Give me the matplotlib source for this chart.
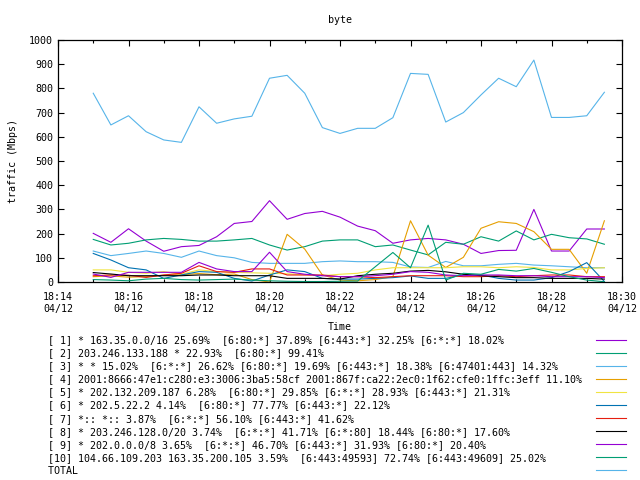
import pandas as pd
import matplotlib
matplotlib.use('Agg')
import matplotlib.pyplot as plt
from matplotlib.dates import DateFormatter, MinuteLocator
from matplotlib.lines import Line2D

# %% data (Mbps, one sample every 30 s from 18:15:00)
start = '2024-04-12 18:15:00'
n_points = 30

s1 = [201, 164, 220, 169, 127, 146, 151, 187, 242, 250, 336, 259, 283, 292, 268,
      231, 212, 160, 174, 180, 174, 156, 118, 130, 131, 300, 128, 128, 219, 219]
s2 = [176, 153, 160, 174, 180, 176, 169, 169, 174, 180, 153, 132, 146, 169, 174,
      174, 146, 153, 132, 112, 164, 156, 187, 169, 211, 174, 197, 183, 178, 156]
s3 = [128, 109, 118, 128, 118, 102, 128, 109, 100, 81, 77, 77, 77, 84, 87,
      84, 84, 81, 62, 60, 85, 67, 67, 73, 77, 70, 67, 63, 59, 59]
s4 = [22, 25, 20, 22, 28, 30, 35, 30, 33, 10, 0, 197, 136, 29, 8,
      5, 10, 22, 253, 111, 60, 102, 222, 249, 242, 208, 135, 135, 36, 253]
s5 = [50, 50, 40, 36, 43, 32, 50, 43, 40, 38, 36, 34, 30, 26, 32,
      36, 50, 59, 59, 59, 59, 63, 63, 59, 63, 60, 50, 50, 56, 59]
s6 = [118, 91, 59, 50, 15, 29, 43, 40, 15, 4, 29, 50, 43, 15, 12,
      12, 15, 18, 25, 15, 15, 29, 29, 15, 8, 8, 18, 43, 80, 2]
s7 = [26, 29, 28, 19, 29, 36, 67, 43, 40, 54, 54, 29, 29, 29, 22,
      22, 18, 22, 26, 26, 26, 22, 22, 26, 22, 26, 29, 29, 22, 22]
s8 = [39, 33, 26, 26, 26, 26, 29, 29, 26, 26, 26, 15, 15, 15, 12,
      26, 32, 36, 45, 48, 42, 32, 26, 22, 18, 18, 15, 15, 15, 12]
s9 = [33, 19, 40, 40, 40, 40, 81, 54, 43, 43, 123, 43, 32, 26, 22,
      22, 26, 32, 43, 40, 29, 26, 29, 29, 26, 26, 22, 22, 22, 18]
s10 = [10, 8, 5, 12, 15, 10, 8, 10, 12, 8, 5, 3, 2, 2, 3,
       4, 63, 122, 59, 235, 8, 36, 32, 52, 45, 56, 40, 22, 8, 1]
total = [780, 649, 687, 621, 587, 577, 724, 656, 674, 685, 842, 854, 780, 638, 614,
         635, 635, 679, 862, 858, 661, 700, 773, 842, 807, 917, 680, 680, 687, 784]

labels = [
    '[ 1] * 163.35.0.0/16 25.69%  [6:80:*] 37.89% [6:443:*] 32.25% [6:*:*] 18.02%',
    '[ 2] 203.246.133.188 * 22.93%  [6:80:*] 99.41%',
    '[ 3] * * 15.02%  [6:*:*] 26.62% [6:80:*] 19.69% [6:443:*] 18.38% [6:47401:443] 14.32%',
    '[ 4] 2001:8666:47e1:c280:e3:3006:3ba5:58cf 2001:867f:ca22:2ec0:1f62:cfe0:1ffc:3eff 11.10%',
    '[ 5] * 202.132.209.187 6.28%  [6:80:*] 29.85% [6:*:*] 28.93% [6:443:*] 21.31%',
    '[ 6] * 202.5.22.2 4.14%  [6:80:*] 77.77% [6:443:*] 22.12%',
    '[ 7] *:: *:: 3.87%  [6:*:*] 56.10% [6:443:*] 41.62%',
    '[ 8] * 203.246.128.0/20 3.74%  [6:*:*] 41.71% [6:*:80] 18.44% [6:80:*] 17.60%',
    '[ 9] * 202.0.0.0/8 3.65%  [6:*:*] 46.70% [6:443:*] 31.93% [6:80:*] 20.40%',
    '[10] 104.66.109.203 163.35.200.105 3.59%  [6:443:49593] 72.74% [6:443:49609] 25.02%',
    'TOTAL',
]
colors = ['#9400d3', '#009e73', '#56b4e9', '#e69f00', '#f0e442', '#0072b2',
          '#e51e10', '#000000', '#9400d3', '#009e73', '#56b4e9']

# %% plot
plt.rcParams['font.family'] = 'DejaVu Sans Mono'
plt.rcParams['font.size'] = 7.2

times = pd.date_range(start, periods=n_points, freq='30s')
series = [s1, s2, s3, s4, s5, s6, s7, s8, s9, s10, total]

fig = plt.figure(figsize=(6.4, 4.8), dpi=100)
ax = fig.add_axes([58 / 640, 1 - 282 / 480, 564 / 640, 242 / 480])

for values, color in zip(series, colors):
    ax.plot(times, values, color=color, lw=0.8)

ax.set_xlim(pd.Timestamp('2024-04-12 18:14'), pd.Timestamp('2024-04-12 18:30'))
ax.set_ylim(0, 1000)
ax.set_yticks(range(0, 1001, 100))
ax.xaxis.set_major_locator(MinuteLocator(byminute=range(0, 60, 2)))
ax.xaxis.set_minor_locator(MinuteLocator())
ax.xaxis.set_major_formatter(DateFormatter('%H:%M\n%m/%d'))
ax.tick_params(which='both', direction='in', top=True, right=True)
ax.tick_params(which='major', length=4, width=0.8)
ax.tick_params(which='minor', length=2, width=0.8)
ax.tick_params(axis='x', pad=7)
for lbl in ax.get_xticklabels():
    lbl.set_linespacing(1.3)
for sp in ax.spines.values():
    sp.set_linewidth(0.9)

ax.set_title('byte', pad=12, fontsize=7.2)
ax.set_xlabel('Time', labelpad=6)
ax.set_ylabel('traffic (Mbps)', labelpad=8)

width = max(len(s) for s in labels) + 2
handles = [Line2D([], [], color=c, lw=0.8) for c in colors]
fig.legend(handles, [s.ljust(width) for s in labels], loc='upper left',
           bbox_to_anchor=(48 / 640, 1 - 335 / 480), frameon=False,
           markerfirst=False, handlelength=3.0, handletextpad=0.2,
           labelspacing=0.31, borderpad=0, borderaxespad=0)

fig.savefig('out.png', dpi=100)
